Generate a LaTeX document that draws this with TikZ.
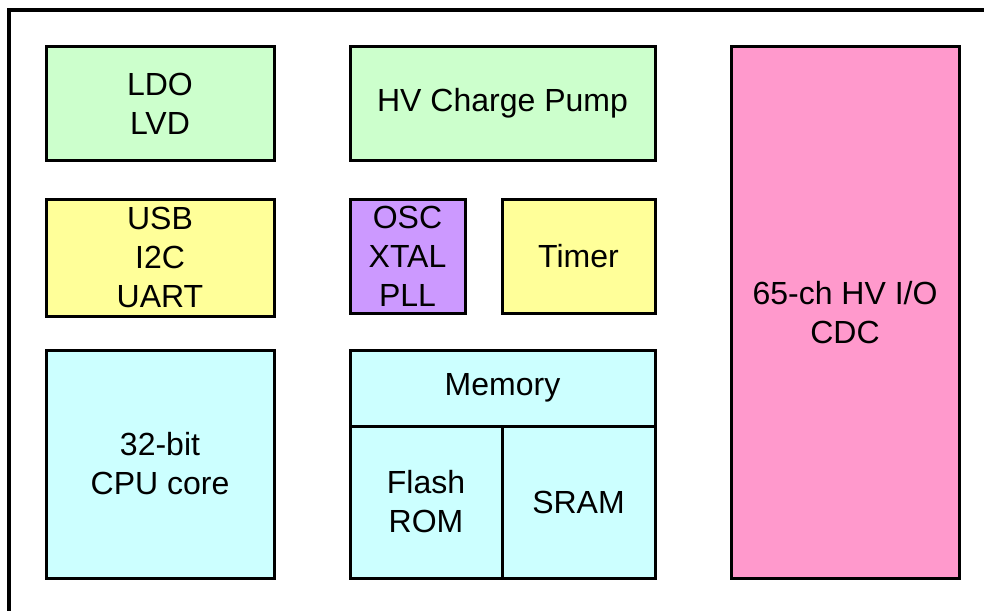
\documentclass[tikz,border=0pt]{standalone}
\usepackage{fontspec}
\setmainfont{Liberation Sans}
\definecolor{cgreen}{HTML}{CCFFCC}
\definecolor{cyellow}{HTML}{FFFF99}
\definecolor{cpurple}{HTML}{CC99FF}
\definecolor{ccyan}{HTML}{CCFFFF}
\definecolor{cpink}{HTML}{FF99CC}
\tikzset{
  blk/.style={draw=black, line width=3pt, rectangle, inner sep=0pt, outer sep=0pt,
    align=center, font=\fontsize{32}{39}\selectfont, text=black},
}
\begin{document}
\begin{tikzpicture}[x=1pt, y=-1pt]
\useasboundingbox (0,0) rectangle (984,610);
\clip (0,0) rectangle (984,610);
\fill[white] (0,0) rectangle (984,610);
% outer frame (continues beyond the picture)
\coordinate (ftr) at (1100,10);
\coordinate (ftl) at (9,10);
\coordinate (fbl) at (9,700);
\draw[line width=3.5pt] (ftr) -- (ftl) -- (fbl);
% blocks
\node[blk, fill=cgreen, minimum width=228pt, minimum height=113pt] (ldo) at (160,103.5) {LDO\\LVD};
\node[blk, fill=cgreen, minimum width=305pt, minimum height=113pt] (hvcp) at (502.5,103.5) {HV Charge Pump};
\node[blk, fill=cyellow, minimum width=228pt, minimum height=117pt] (usb) at (160,257.5) {USB\\I2C\\UART};
\node[blk, fill=cpurple, minimum width=115pt, minimum height=114pt] (osc) at (407.5,256) {OSC\\XTAL\\PLL};
\node[blk, fill=cyellow, minimum width=153pt, minimum height=114pt] (timer) at (578.5,256) {Timer};
\node[blk, fill=ccyan, minimum width=228pt, minimum height=228pt] (cpu) at (160,464) {32-bit\\CPU core};
\node[blk, fill=ccyan, minimum width=305pt, minimum height=76pt] (mem) at (502.5,388) {Memory};
\node[blk, fill=ccyan, minimum width=152pt, minimum height=152pt] (flash) at (426,502) {Flash\\ROM};
\node[blk, fill=ccyan, minimum width=153pt, minimum height=152pt] (sram) at (578.5,502) {SRAM};
\node[blk, fill=cpink, minimum width=228pt, minimum height=531pt] (hvio) at (845,312.5) {65-ch HV I/O\\CDC};
\end{tikzpicture}
\end{document}
